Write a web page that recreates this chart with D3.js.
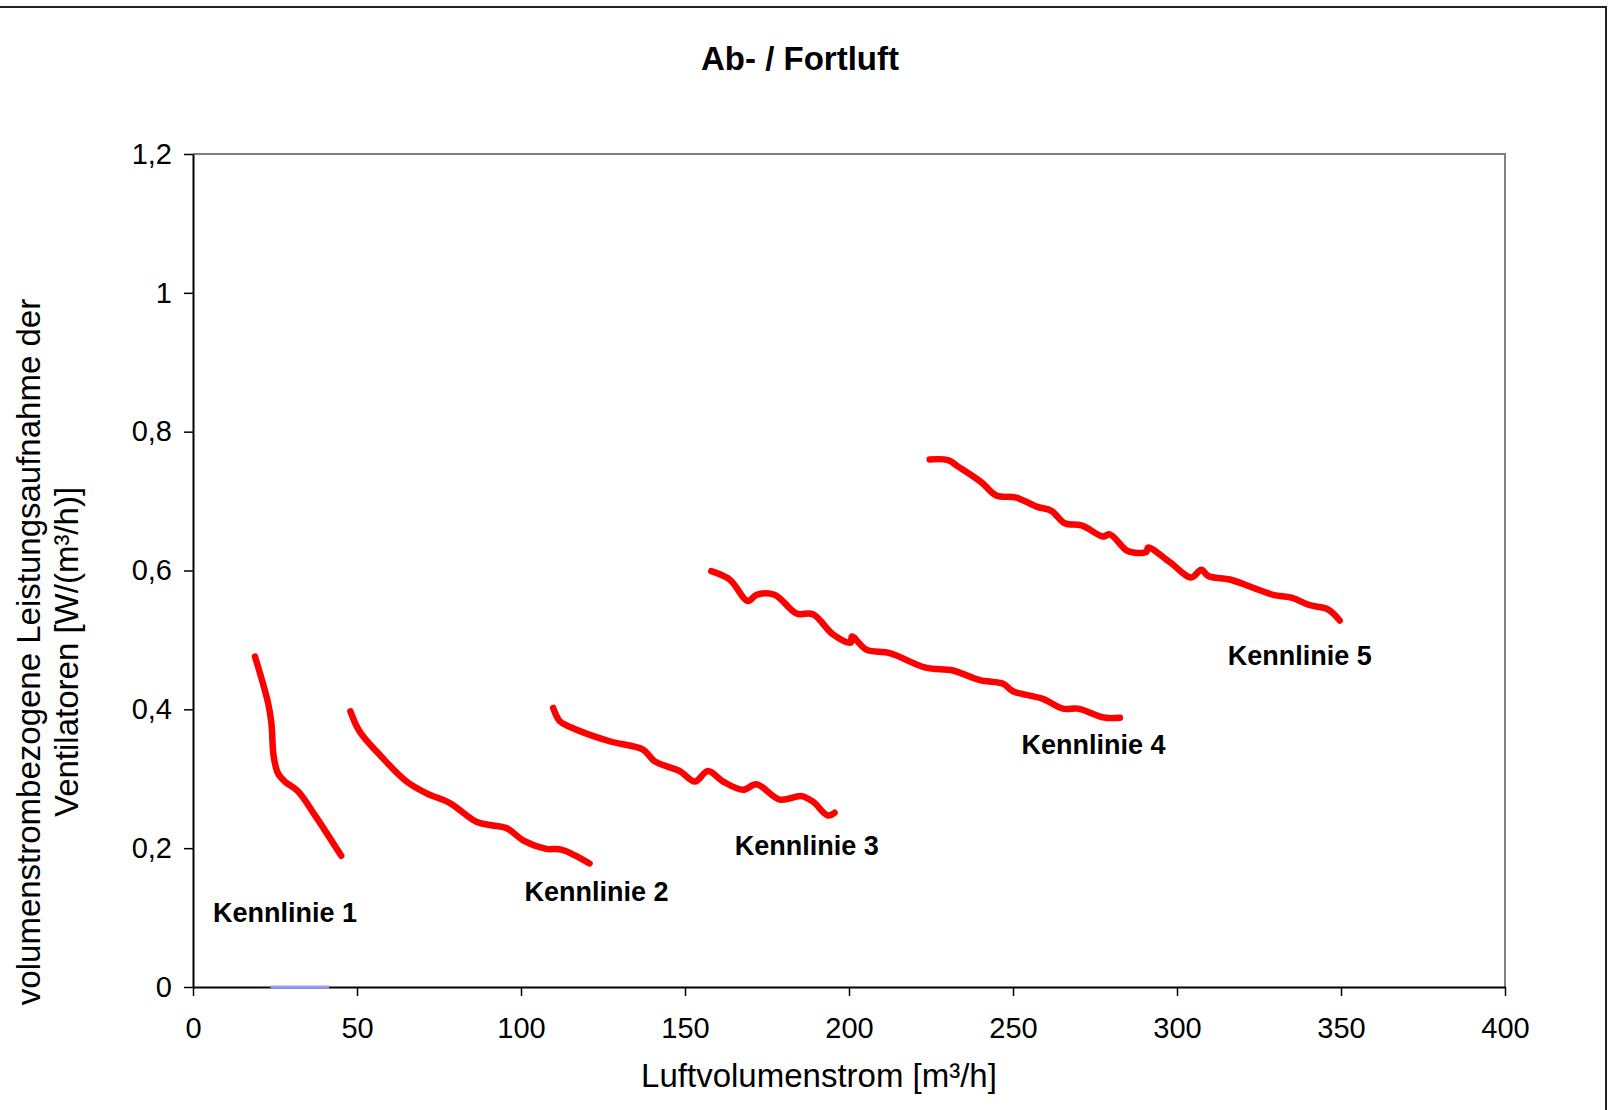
<!doctype html>
<html lang="de">
<head>
  <meta charset="utf-8">
  <title>Ab- / Fortluft</title>
  <script src="https://cdnjs.cloudflare.com/ajax/libs/d3/7.8.5/d3.min.js"></script>
  <style>
    body { margin: 0; background: #fff; }
    svg { display: block; font-family: "Liberation Sans", Arial, sans-serif; }
    .tick text { font-size: 29px; fill: #000; }
    .label-k { font-size: 27px; font-weight: bold; }
  </style>
</head>
<body>
<svg width="1610" height="1110"></svg>
<script>
  // ---- data ----
  const xTicks = [0, 50, 100, 150, 200, 250, 300, 350, 400];
  const yTicks = [0, 0.2, 0.4, 0.6, 0.8, 1, 1.2];
  const yTickLabels = ["0", "0,2", "0,4", "0,6", "0,8", "1", "1,2"];

  const kennlinie1 = [[18.9,0.476],[22.9,0.409],[23.9,0.380],[24.6,0.332],[25.9,0.308],[28.0,0.296],
    [32.0,0.282],[37.1,0.248],[45.2,0.189]];
  const kennlinie2 = [[48.0,0.397],[50.8,0.368],[57.4,0.332],[65.1,0.296],[71.2,0.279],[78.3,0.265],
    [86.4,0.238],[91.0,0.233],[95.5,0.229],[101.1,0.210],[107.7,0.199],[112.3,0.198],[120.9,0.178]];
  const kennlinie3 = [[109.8,0.402],[111.8,0.383],[114.8,0.375],[127.0,0.354],[137.2,0.342],[140.8,0.325],
    [148.4,0.311],[153.0,0.296],[157.0,0.311],[161.6,0.296],[167.7,0.284],[171.8,0.292],[178.9,0.270],
    [185.5,0.275],[189.0,0.267],[193.6,0.247],[195.6,0.251]];
  const kennlinie4 = [[158.0,0.599],[163.6,0.587],[169.2,0.556],[171.8,0.565],[177.3,0.565],[184.0,0.538],
    [189.0,0.537],[195.1,0.508],[200.5,0.496],[200.9,0.505],[205.3,0.486],[212.4,0.481],[223.4,0.460],
    [231.7,0.456],[239.9,0.442],[247.0,0.437],[250.0,0.426],[259.1,0.415],[265.2,0.401],[269.8,0.401],
    [278.0,0.388],[282.6,0.388]];
  const kennlinie5 = [[224.6,0.760],[230.2,0.759],[233.2,0.750],[240.4,0.727],[244.9,0.708],[251.0,0.705],
    [257.2,0.692],[261.7,0.686],[265.8,0.668],[270.9,0.665],[277.4,0.649],[279.5,0.652],[284.6,0.629],
    [286.6,0.626],[290.7,0.627],[291.2,0.633],[297.8,0.612],[304.4,0.590],[307.4,0.601],[309.5,0.592],
    [316.1,0.587],[322.2,0.577],[329.3,0.565],[334.9,0.561],[340.5,0.550],[346.0,0.544],[349.6,0.528]];
  const nullLinie = [[23.6,0],[41.5,0]];

  const labelNames = ["Kennlinie 1", "Kennlinie 2", "Kennlinie 3", "Kennlinie 4", "Kennlinie 5"];
  const labelX = [6.1, 101.1, 165.2, 252.6, 315.5];
  const labelY = [0.094, 0.124, 0.190, 0.335, 0.464];

  // ---- layout ----
  const svg = d3.select("svg");
  const plot = {left: 193, right: 1505, top: 154, bottom: 987};

  const x = d3.scaleLinear().domain([0, 400]).range([plot.left, plot.right]);
  const y = d3.scaleLinear().domain([0, 1.2]).range([plot.bottom, plot.top]);

  // outer chart border (only top and right edges fall inside the picture)
  svg.append("rect")
    .attr("x", -10).attr("y", 7)
    .attr("width", 1616).attr("height", 1200)
    .attr("fill", "none").attr("stroke", "#222").attr("stroke-width", 2);

  // title
  svg.append("text")
    .attr("x", 800).attr("y", 70)
    .attr("text-anchor", "middle")
    .style("font-size", "33px").style("font-weight", "bold")
    .text("Ab- / Fortluft");

  // plot area frame: grey top and right
  svg.append("path")
    .attr("d", `M${plot.left},${plot.top}H${plot.right}V${plot.bottom}`)
    .attr("fill", "none").attr("stroke", "#808080").attr("stroke-width", 2);

  // axes
  const xAxis = d3.axisBottom(x).tickValues(xTicks).tickSize(9).tickPadding(21).tickSizeOuter(0);
  const yAxis = d3.axisLeft(y).tickValues(yTicks).tickSize(9).tickPadding(12).tickSizeOuter(0)
    .tickFormat((d, i) => yTickLabels[i]);

  svg.append("g")
    .attr("transform", `translate(0,${plot.bottom})`)
    .call(xAxis)
    .call(g => g.select(".domain").attr("stroke", "#000").attr("stroke-width", 2))
    .call(g => g.selectAll(".tick line").attr("stroke", "#000").attr("stroke-width", 1.5))
    .call(g => g.selectAll(".tick text").attr("font-family", null).attr("font-size", null));

  svg.append("g")
    .attr("transform", `translate(${plot.left},0)`)
    .call(yAxis)
    .call(g => g.select(".domain").attr("stroke", "#000").attr("stroke-width", 2))
    .call(g => g.selectAll(".tick line").attr("stroke", "#000").attr("stroke-width", 1.5))
    .call(g => g.selectAll(".tick text").attr("font-family", null).attr("font-size", null));

  // axis titles
  svg.append("text")
    .attr("x", 819).attr("y", 1087)
    .attr("text-anchor", "middle")
    .style("font-size", "33px")
    .text("Luftvolumenstrom [m³/h]");

  const yTitle = svg.append("text")
    .attr("transform", "translate(40,652) rotate(-90)")
    .attr("text-anchor", "middle")
    .style("font-size", "33px");
  yTitle.append("tspan").attr("x", 0).attr("y", 0)
    .text("volumenstrombezogene Leistungsaufnahme der");
  yTitle.append("tspan").attr("x", 0).attr("y", 38)
    .text("Ventilatoren [W/(m³/h)]");

  // lines
  const line = d3.line()
    .x(d => x(d[0]))
    .y(d => y(d[1]))
    .curve(d3.curveCatmullRom.alpha(0.5));

  svg.append("path")
    .datum(nullLinie)
    .attr("d", line)
    .attr("fill", "none")
    .attr("stroke", "#9999ff")
    .attr("stroke-width", 3);

  const kennlinien = [kennlinie1, kennlinie2, kennlinie3, kennlinie4, kennlinie5];
  svg.append("g")
    .selectAll("path")
    .data(kennlinien)
    .join("path")
    .attr("d", line)
    .attr("fill", "none")
    .attr("stroke", "#ff0000")
    .attr("stroke-width", 6.5)
    .attr("stroke-linecap", "round")
    .attr("stroke-linejoin", "round");

  // labels
  svg.append("g")
    .selectAll("text")
    .data(labelNames)
    .join("text")
    .attr("class", "label-k")
    .attr("x", (d, i) => x(labelX[i]))
    .attr("y", (d, i) => y(labelY[i]))
    .text(d => d);
</script>
</body>
</html>
